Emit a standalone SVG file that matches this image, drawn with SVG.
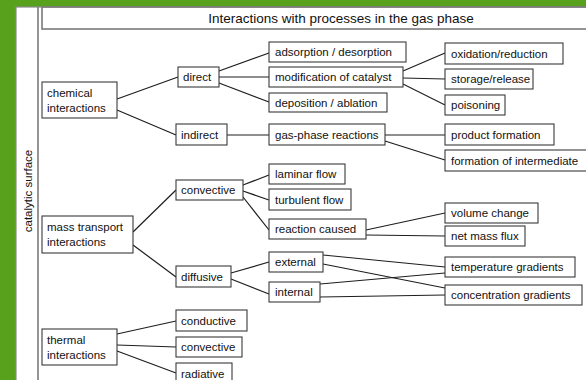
<svg xmlns="http://www.w3.org/2000/svg" width="586" height="380" viewBox="0 0 586 380">
  <style>
    .frame { fill: none; stroke: #7a7a7a; stroke-width: 1.6; }
    .box { fill: #ffffff; stroke: #3a3a3a; stroke-width: 1.1; }
    .lbl { font-family: "Liberation Sans", Arial, sans-serif; font-size: 11.5px; fill: #111; }
    .title { font-size: 13.5px; }
    .edge { fill: none; stroke: #1e1e1e; stroke-width: 1.2; }
  </style>

  <!-- page background and panel -->
  <rect x="0" y="0" width="586" height="380" fill="#58a11c"/>
  <rect x="16" y="7" width="580" height="380" fill="#ffffff" stroke="#8a8a8a" stroke-width="1.2"/>
  <line x1="38" y1="7" x2="38" y2="380" class="frame"/>
  <rect x="42" y="7" width="560" height="22" class="frame" fill="#ffffff"/>
  <text class="lbl title" x="341" y="23" text-anchor="middle">Interactions with processes in the gas phase</text>
  <text class="lbl" transform="translate(32,191) rotate(-90)" text-anchor="middle">catalytic surface</text>

  <!-- connectors -->
  <g id="connectors">
    <line class="edge" x1="117" y1="99" x2="178" y2="77"/>
    <line class="edge" x1="117" y1="110" x2="176" y2="135"/>
    <line class="edge" x1="219" y1="71" x2="269" y2="53"/>
    <line class="edge" x1="219" y1="77" x2="269" y2="77"/>
    <line class="edge" x1="219" y1="83" x2="269" y2="102"/>
    <line class="edge" x1="403" y1="71" x2="445" y2="53"/>
    <line class="edge" x1="403" y1="78" x2="445" y2="79"/>
    <line class="edge" x1="403" y1="84" x2="445" y2="105"/>
    <line class="edge" x1="227" y1="135" x2="269" y2="135"/>
    <line class="edge" x1="385" y1="135" x2="445" y2="135"/>
    <line class="edge" x1="385" y1="141" x2="445" y2="160"/>
    <line class="edge" x1="133" y1="232" x2="176" y2="190"/>
    <line class="edge" x1="133" y1="245" x2="176" y2="277"/>
    <line class="edge" x1="243" y1="185" x2="269" y2="175"/>
    <line class="edge" x1="243" y1="191" x2="269" y2="200"/>
    <line class="edge" x1="243" y1="197" x2="269" y2="230"/>
    <line class="edge" x1="366" y1="230" x2="445" y2="213"/>
    <line class="edge" x1="366" y1="235" x2="445" y2="236"/>
    <line class="edge" x1="231" y1="273" x2="269" y2="262"/>
    <line class="edge" x1="231" y1="279" x2="269" y2="294"/>
    <line class="edge" x1="323" y1="255" x2="445" y2="267"/>
    <line class="edge" x1="323" y1="264" x2="445" y2="288"/>
    <line class="edge" x1="320" y1="284" x2="445" y2="273"/>
    <line class="edge" x1="320" y1="297" x2="445" y2="295"/>
    <line class="edge" x1="117" y1="334" x2="176" y2="321"/>
    <line class="edge" x1="117" y1="345" x2="176" y2="347"/>
    <line class="edge" x1="117" y1="351" x2="176" y2="373"/>
  </g>

  <!-- chemical branch -->
  <g id="chemical-interactions">
    <rect class="box" x="42" y="82" width="75" height="36"/>
    <text class="lbl" x="47" y="97">chemical</text>
    <text class="lbl" x="47" y="112">interactions</text>
  </g>
  <g id="direct">
    <rect class="box" x="178" y="67" width="41" height="20"/>
    <text class="lbl" x="183" y="81">direct</text>
  </g>
  <g id="adsorption-desorption">
    <rect class="box" x="269" y="42" width="137" height="20"/>
    <text class="lbl" x="275" y="56">adsorption / desorption</text>
  </g>
  <g id="modification-of-catalyst">
    <rect class="box" x="269" y="67" width="134" height="20"/>
    <text class="lbl" x="275" y="81">modification of catalyst</text>
  </g>
  <g id="deposition-ablation">
    <rect class="box" x="269" y="93" width="118" height="19"/>
    <text class="lbl" x="275" y="107">deposition / ablation</text>
  </g>
  <g id="oxidation-reduction">
    <rect class="box" x="445" y="43" width="118" height="21"/>
    <text class="lbl" x="451" y="58">oxidation/reduction</text>
  </g>
  <g id="storage-release">
    <rect class="box" x="445" y="69" width="88" height="20"/>
    <text class="lbl" x="451" y="83">storage/release</text>
  </g>
  <g id="poisoning">
    <rect class="box" x="445" y="95" width="60" height="20"/>
    <text class="lbl" x="451" y="109">poisoning</text>
  </g>
  <g id="indirect">
    <rect class="box" x="176" y="124" width="51" height="21"/>
    <text class="lbl" x="181" y="139">indirect</text>
  </g>
  <g id="gas-phase-reactions">
    <rect class="box" x="269" y="124" width="116" height="21"/>
    <text class="lbl" x="275" y="139">gas-phase reactions</text>
  </g>
  <g id="product-formation">
    <rect class="box" x="445" y="124" width="109" height="21"/>
    <text class="lbl" x="451" y="139">product formation</text>
  </g>
  <g id="formation-of-intermediate">
    <rect class="box" x="445" y="150" width="150" height="21"/>
    <text class="lbl" x="451" y="165">formation of intermediate</text>
  </g>

  <!-- mass transport branch -->
  <g id="mass-transport-interactions">
    <rect class="box" x="42" y="216" width="91" height="37"/>
    <text class="lbl" x="47" y="231">mass transport</text>
    <text class="lbl" x="47" y="246">interactions</text>
  </g>
  <g id="convective-mass">
    <rect class="box" x="176" y="180" width="67" height="20"/>
    <text class="lbl" x="181" y="194">convective</text>
  </g>
  <g id="laminar-flow">
    <rect class="box" x="269" y="164" width="76" height="20"/>
    <text class="lbl" x="275" y="178">laminar flow</text>
  </g>
  <g id="turbulent-flow">
    <rect class="box" x="269" y="189" width="82" height="21"/>
    <text class="lbl" x="275" y="204">turbulent flow</text>
  </g>
  <g id="reaction-caused">
    <rect class="box" x="269" y="219" width="97" height="20"/>
    <text class="lbl" x="275" y="233">reaction caused</text>
  </g>
  <g id="volume-change">
    <rect class="box" x="445" y="203" width="93" height="20"/>
    <text class="lbl" x="451" y="217">volume change</text>
  </g>
  <g id="net-mass-flux">
    <rect class="box" x="445" y="226" width="80" height="20"/>
    <text class="lbl" x="451" y="240">net mass flux</text>
  </g>
  <g id="diffusive">
    <rect class="box" x="176" y="266" width="55" height="21"/>
    <text class="lbl" x="181" y="281">diffusive</text>
  </g>
  <g id="external">
    <rect class="box" x="269" y="252" width="54" height="20"/>
    <text class="lbl" x="275" y="266">external</text>
  </g>
  <g id="internal">
    <rect class="box" x="269" y="282" width="51" height="20"/>
    <text class="lbl" x="275" y="296">internal</text>
  </g>
  <g id="temperature-gradients">
    <rect class="box" x="445" y="257" width="130" height="20"/>
    <text class="lbl" x="451" y="271">temperature gradients</text>
  </g>
  <g id="concentration-gradients">
    <rect class="box" x="445" y="285" width="137" height="20"/>
    <text class="lbl" x="451" y="299">concentration gradients</text>
  </g>

  <!-- thermal branch -->
  <g id="thermal-interactions">
    <rect class="box" x="42" y="329" width="75" height="36"/>
    <text class="lbl" x="47" y="344">thermal</text>
    <text class="lbl" x="47" y="359">interactions</text>
  </g>
  <g id="conductive">
    <rect class="box" x="176" y="310" width="71" height="21"/>
    <text class="lbl" x="181" y="325">conductive</text>
  </g>
  <g id="convective-thermal">
    <rect class="box" x="176" y="337" width="66" height="20"/>
    <text class="lbl" x="181" y="351">convective</text>
  </g>
  <g id="radiative">
    <rect class="box" x="176" y="363" width="56" height="21"/>
    <text class="lbl" x="181" y="378">radiative</text>
  </g>
</svg>
